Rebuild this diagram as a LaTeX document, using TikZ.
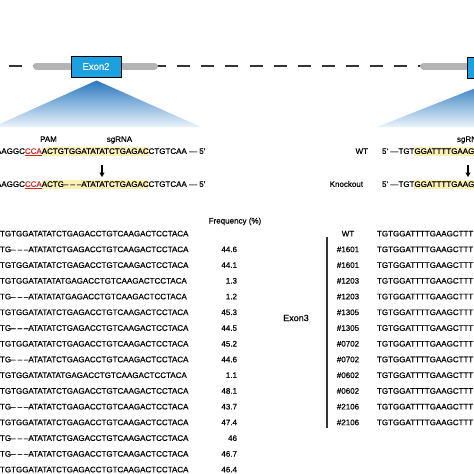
\documentclass[tikz,border=0pt]{standalone}
\usepackage{fontspec}
\setmainfont{Liberation Sans}[FakeBold=0.35]
\usepackage{calc}
\usetikzlibrary{arrows.meta}
\definecolor{exonblue}{HTML}{1BA1E2}
\definecolor{bargray}{HTML}{B4B4B4}
\definecolor{linegray}{HTML}{333333}
\definecolor{hly}{HTML}{FBF1B4}
\definecolor{pamred}{HTML}{D42A20}
\definecolor{tritop}{HTML}{2A78BE}
\definecolor{tribot}{HTML}{EAF3FB}
\newcommand\hlt[1]{{\setlength{\fboxsep}{0pt}\colorbox{hly}{\rule[-1.6pt]{0pt}{8.2pt}#1}}}
\newcommand\pamtxt[1]{\textcolor{pamred}{\underline{#1}}}
\newcommand\delg{\makebox[\widthof{TGG}][s]{–\hfill–\hfill–}}
\newcommand\seqA{TGTGGATATATCTGAGACCTGTCAAGACTCCTACA}
\newcommand\seqB{TG\delg ATATATCTGAGACCTGTCAAGACTCCTACA}
\newcommand\seqC{TGTGGATATATATGAGACCTGTCAAGACTCCTACA}
\newcommand\seqD{TG\delg ATATATATGAGACCTGTCAAGACTCCTACA}
\tikzset{
  txt/.style={font=\fontsize{8}{9.6}\selectfont, inner sep=0pt, outer sep=0pt},
  exonbox/.style={draw=black, line width=0.9pt, fill=exonblue, minimum width=50pt,
    minimum height=21pt, inner sep=0pt, text=white, font=\fontsize{9.5}{11}\selectfont},
  dashline/.style={draw=linegray, line width=2pt, dash pattern=on 13pt off 11.1pt},
  genebar/.style={draw=bargray, line width=7pt, line cap=round},
  arr/.style={draw=black, line width=1.3pt, -{Triangle[length=4.5pt,width=5pt]}},
  vline/.style={draw=linegray, line width=1.4pt},
}
\begin{document}
\begin{tikzpicture}[x=1pt,y=-1pt]
\useasboundingbox (0,0) rectangle (474,474);
\clip (0,0) rectangle (474,474);
\fill[white] (0,0) rectangle (474,474);

% gene line
\draw[dashline] (8.5,66) -- (474,66);
\draw[genebar] (36.5,66) -- (154.5,66);
\draw[genebar] (423.5,66) -- (472,66);
\node[exonbox] (ex2) at (96,66.5) {Exon2};
\node[exonbox] (exr) at (492,67.5) {};

% zoom triangles
\shade[top color=tritop, bottom color=tribot] (96.5,80.5) -- (-7,127) -- (201,127) -- cycle;
\shade[top color=tritop, bottom color=tribot] (492,81.5) -- (377,127) -- (607,127) -- cycle;

% left sgRNA detail
\node[txt, anchor=base] (pam) at (48.5,141.9) {PAM};
\node[txt, anchor=base] (sgl) at (119.5,141.9) {sgRNA};
\node[txt, anchor=base west] (lwt) at (-4,153.9)
  {AAGGC\pamtxt{CCA}\hlt{ACTGTGGATATATCTGAGAC}CTGTCAA — 5'};
\coordinate (la1) at (102,165);
\coordinate (la2) at (102,177);
\draw[arr] (la1) -- (la2);
\node[txt, anchor=base west] (lko) at (-4,186.9)
  {AAGGC\pamtxt{CCA}\hlt{ACTG\delg ATATATCTGAGAC}CTGTCAA — 5'};

% right sgRNA detail
\node[txt, anchor=base west] (sgr) at (457,141.9) {sgRNA};
\node[txt, anchor=base east] (wtlab) at (368,153.9) {WT};
\node[txt, anchor=base west] (rwt) at (382,153.9) {5' —TGT\hlt{GGATTTTGAAGC}};
\coordinate (ra1) at (468,165);
\coordinate (ra2) at (468,177);
\draw[arr] (ra1) -- (ra2);
\node[txt, anchor=base east] (kolab) at (363,186.9) {Knockout};
\node[txt, anchor=base west] (rko) at (382,186.9) {5' —TGT\hlt{GGATTTTGAAGC}};

% left table
\node[txt, anchor=base] (freqhead) at (235,223.5) {Frequency (\%)};
\foreach \s [count=\k from 0] in {\seqA,\seqB,\seqA,\seqC,\seqD,\seqA,\seqB,\seqA,\seqB,\seqC,\seqA,\seqB,\seqA,\seqB,\seqB,\seqA}
  \node[txt, anchor=base west] (s\k) at (0,236.4+15.73*\k) {\s};
\foreach \f [count=\k from 1] in {44.6,44.1,1.3,1.2,45.3,44.5,45.2,44.6,1.1,48.1,43.7,47.4,46,46.7,46.4}
  \node[txt, anchor=base east] (f\k) at (237,236.4+15.73*\k) {\f};

% right table
\node[font=\fontsize{9}{11}\selectfont, inner sep=0pt] (exon3) at (296,318) {Exon3};
\coordinate (vt) at (327,237);
\coordinate (vb) at (327,428);
\draw[vline] (vt) -- (vb);
\foreach \l [count=\k from 0] in {WT,\#1601,\#1601,\#1203,\#1203,\#1305,\#1305,\#0702,\#0702,\#0602,\#0602,\#2106,\#2106}{
  \node[txt, anchor=base] (l\k) at (348,236.4+15.73*\k) {\l};
  \node[txt, anchor=base west] (q\k) at (377,236.4+15.73*\k) {TGTGGATTTTGAAGCTTT};
}
\end{tikzpicture}
\end{document}
